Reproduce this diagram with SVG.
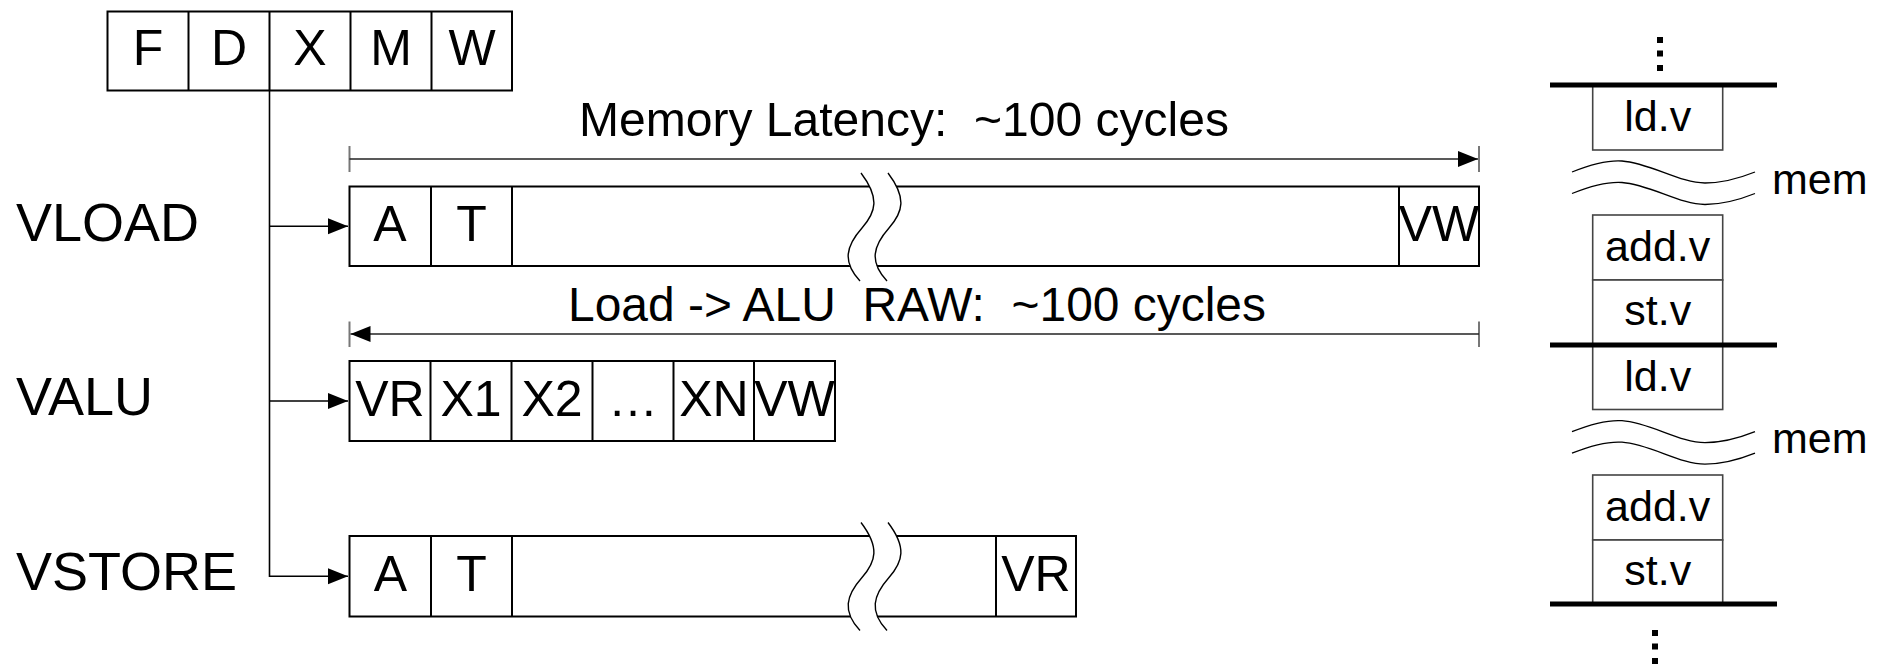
<svg xmlns="http://www.w3.org/2000/svg" xmlns:xlink="http://www.w3.org/1999/xlink" width="1881" height="665" viewBox="0 0 1881 665">
<style>
text{font-family:"Liberation Sans",Arial,sans-serif;fill:#000}
.cell{fill:#fff;stroke:#000;stroke-width:2}
.div{stroke:#000;stroke-width:2}
.c{font-size:50px;text-anchor:middle}
.lbl{font-size:54px}
.dimt{font-size:48px;white-space:pre}
.conn{fill:none;stroke:#000;stroke-width:1.6}
.dim{fill:none;stroke:#222;stroke-width:1.6}
.tick{stroke:#777;stroke-width:2}
.brk{fill:none;stroke:#000;stroke-width:1.4}
.ibox{fill:#fff;stroke:#444;stroke-width:1.6}
.it{font-size:43px;text-anchor:middle}
.bar{stroke:#000;stroke-width:5}
.wave{fill:none;stroke:#000;stroke-width:1.3}
</style>
<defs>
<marker id="ah" markerUnits="userSpaceOnUse" markerWidth="21" markerHeight="17" refX="20" refY="8" orient="auto">
<path d="M0,0 L20,8 L0,16 Z" fill="#000"/>
</marker>
<g id="break">
<path d="M861,173 C880,198 876,212 862,228 C846,246 842,262 860,281 L887,281 C869,262 873,246 889,228 C903,212 907,198 888,173 Z" fill="#fff" stroke="none"/>
<path class="brk" d="M861,173 C880,198 876,212 862,228 C846,246 842,262 860,281"/>
<path class="brk" d="M888,173 C907,198 903,212 889,228 C873,246 869,262 887,281"/>
</g>
<path id="wv" class="wave" d="M1572,172 C1592,164 1608,160 1622,161 C1650,163 1680,183 1705,183 C1725,183 1745,176 1755,172"/>
</defs>

<g id="fdxmw">
<rect class="cell" x="107.5" y="11.5" width="404.5" height="79"/>
<line class="div" x1="188.5" y1="11.5" x2="188.5" y2="90.5"/>
<line class="div" x1="269.5" y1="11.5" x2="269.5" y2="90.5"/>
<line class="div" x1="350.5" y1="11.5" x2="350.5" y2="90.5"/>
<line class="div" x1="431.5" y1="11.5" x2="431.5" y2="90.5"/>
<text class="c" x="148" y="65">F</text>
<text class="c" x="229" y="65">D</text>
<text class="c" x="310" y="65">X</text>
<text class="c" x="391" y="65">M</text>
<text class="c" x="472" y="65">W</text>
</g>

<g id="label-vload"><text class="lbl" x="16" y="241">VLOAD</text></g>
<g id="label-valu"><text class="lbl" x="16" y="415">VALU</text></g>
<g id="label-vstore"><text class="lbl" x="16" y="590">VSTORE</text></g>

<g id="vload-pipe">
<rect class="cell" x="349.5" y="186.5" width="1129.5" height="79.5"/>
<line class="div" x1="431" y1="186.5" x2="431" y2="266"/>
<line class="div" x1="512" y1="186.5" x2="512" y2="266"/>
<line class="div" x1="1399" y1="186.5" x2="1399" y2="266"/>
<use xlink:href="#break"/>
<text class="c" x="390" y="241">A</text>
<text class="c" x="471.5" y="241">T</text>
<text class="c" x="1439" y="241">VW</text>
</g>

<g id="valu-pipe">
<rect class="cell" x="349.5" y="361" width="485.5" height="80"/>
<line class="div" x1="430.5" y1="361" x2="430.5" y2="441"/>
<line class="div" x1="511.5" y1="361" x2="511.5" y2="441"/>
<line class="div" x1="592.5" y1="361" x2="592.5" y2="441"/>
<line class="div" x1="673.5" y1="361" x2="673.5" y2="441"/>
<line class="div" x1="754" y1="361" x2="754" y2="441"/>
<text class="c" x="390" y="416">VR</text>
<text class="c" x="471" y="416">X1</text>
<text class="c" x="552" y="416">X2</text>
<text class="c" x="633" y="416">…</text>
<text class="c" x="714" y="416">XN</text>
<text class="c" x="794.5" y="416">VW</text>
</g>

<g id="vstore-pipe">
<rect class="cell" x="349.5" y="536" width="726.5" height="80.5"/>
<line class="div" x1="431" y1="536" x2="431" y2="616.5"/>
<line class="div" x1="512" y1="536" x2="512" y2="616.5"/>
<line class="div" x1="996" y1="536" x2="996" y2="616.5"/>
<use xlink:href="#break" transform="translate(0,349.5)"/>
<text class="c" x="390.5" y="591">A</text>
<text class="c" x="471.5" y="591">T</text>
<text class="c" x="1036" y="591">VR</text>
</g>

<g id="mem-latency">
<line class="tick" x1="349.5" y1="146" x2="349.5" y2="172"/>
<line class="tick" x1="1479" y1="146" x2="1479" y2="172"/>
<line class="dim" x1="349.5" y1="159" x2="1478" y2="159" marker-end="url(#ah)"/>
<text class="dimt" xml:space="preserve" x="579" y="136" textLength="650" lengthAdjust="spacingAndGlyphs">Memory Latency:  ~100 cycles</text>
</g>

<g id="raw-latency">
<line class="tick" x1="349.5" y1="321.5" x2="349.5" y2="347"/>
<line class="tick" x1="1479" y1="321.5" x2="1479" y2="347"/>
<line class="dim" x1="1479" y1="334" x2="350.5" y2="334" marker-end="url(#ah)"/>
<text class="dimt" xml:space="preserve" x="568" y="321" textLength="698" lengthAdjust="spacingAndGlyphs">Load -&gt; ALU  RAW:  ~100 cycles</text>
</g>

<g id="connectors">
<path class="conn" d="M269.5,90.5 V576.3 H348" marker-end="url(#ah)"/>
<line class="conn" x1="269.5" y1="226.3" x2="348" y2="226.3" marker-end="url(#ah)"/>
<line class="conn" x1="269.5" y1="401" x2="348" y2="401" marker-end="url(#ah)"/>
</g>

<g id="instr-stream">
<rect x="1657" y="37" width="6" height="6"/>
<rect x="1657" y="50.5" width="6" height="6"/>
<rect x="1657" y="65" width="6" height="6"/>
<rect class="ibox" x="1592.7" y="85" width="130" height="65"/>
<text class="it" x="1657.7" y="131">ld.v</text>
<use xlink:href="#wv"/>
<use xlink:href="#wv" transform="translate(0,21.5)"/>
<text class="it" x="1772" y="194" style="text-anchor:start">mem</text>
<rect class="ibox" x="1592.7" y="215" width="130" height="65"/>
<text class="it" x="1657.7" y="261">add.v</text>
<rect class="ibox" x="1592.7" y="280" width="130" height="65"/>
<text class="it" x="1657.7" y="325">st.v</text>
<rect class="ibox" x="1592.7" y="345" width="130" height="64.5"/>
<text class="it" x="1657.7" y="391">ld.v</text>
<use xlink:href="#wv" transform="translate(0,259.7)"/>
<use xlink:href="#wv" transform="translate(0,281.2)"/>
<text class="it" x="1772" y="453" style="text-anchor:start">mem</text>
<rect class="ibox" x="1592.7" y="475" width="130" height="65"/>
<text class="it" x="1657.7" y="521">add.v</text>
<rect class="ibox" x="1592.7" y="540" width="130" height="64"/>
<text class="it" x="1657.7" y="585">st.v</text>
<line class="bar" x1="1550" y1="85" x2="1777" y2="85"/>
<line class="bar" x1="1550" y1="345" x2="1777" y2="345"/>
<line class="bar" x1="1550" y1="604" x2="1777" y2="604"/>
<rect x="1652" y="630" width="6" height="6"/>
<rect x="1652" y="643.5" width="6" height="6"/>
<rect x="1652" y="658" width="6" height="6"/>
</g>
</svg>
